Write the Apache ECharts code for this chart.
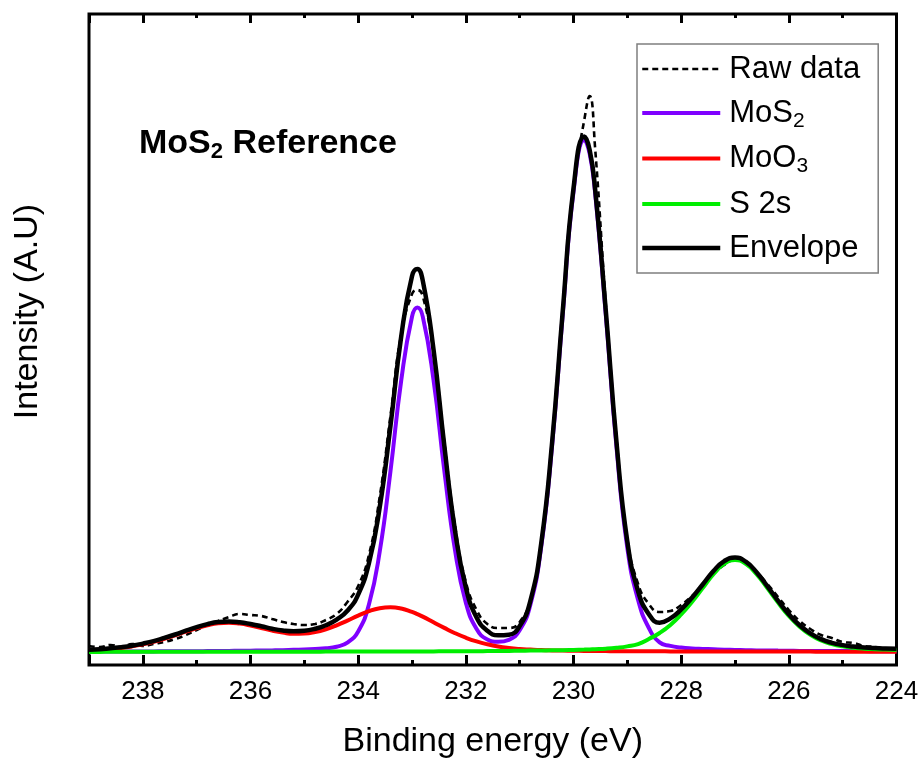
<!DOCTYPE html>
<html><head><meta charset="utf-8">
<script src="https://cdn.jsdelivr.net/npm/echarts@6/dist/echarts.min.js"></script>
<style>html,body{margin:0;padding:0;background:#fff}#c{width:922px;height:758px}</style>
</head><body><div id="c"></div>
<script>
// Binding energy (eV) sample positions
const energy = [239.0,238.8,238.6,238.4,238.2,238.0,237.8,237.6,237.4,237.2,237.0,236.8,236.6,236.4,236.2,236.0,235.8,235.6,235.4,235.2,235.0,234.8,234.6,234.4,234.2,234.0,233.8,233.6,233.4,233.2,233.0,232.9,232.8,232.6,232.4,232.2,232.0,231.8,231.6,231.4,231.2,231.0,230.8,230.6,230.4,230.2,230.0,229.8,229.7,229.6,229.4,229.2,229.0,228.8,228.6,228.4,228.2,228.0,227.8,227.6,227.4,227.2,227.0,226.8,226.6,226.4,226.2,226.0,225.8,225.6,225.4,225.2,225.0,224.8,224.6,224.4,224.2,224.0];

const rawData = [6,5,7,5,8,6,8,10,13,17,22,27,31,35,38,37,36,33,30,28,27,28,32,38,50,66,97,155,236,318,358,362,356,300,210,126,70,42,28,24,24,30,52,108,208,340,466,532,556,505,348,212,113,68,48,40,41,47,56,66,78,87,92,90,80,68,55,42,31,23,17,14,10,9,6,5,3,2];

const mos2 = [0.4,0.4,0.5,0.5,0.5,0.6,0.6,0.7,0.7,0.8,0.8,0.9,1.0,1.1,1.2,1.3,1.5,1.6,1.8,2.2,2.5,3.0,3.7,5.3,9.4,20.6,47.6,100.3,180.8,271.6,335.2,344.4,335.4,272.1,181.6,101.6,49.4,23.0,12.6,10.2,12.2,21.7,47.6,105.0,204.8,337.5,460.3,511.9,498.4,460.0,337.1,204.1,104.0,52.0,24.0,9.6,6.1,4.5,3.6,3.1,2.7,2.3,2.1,1.8,1.6,1.5,1.4,1.3,1.1,1.1,1.1,1.0,1.0,0.9,0.9,0.8,0.8,0.8];

const moo3 = [1.8,2.3,3.1,4.1,5.6,7.6,10.1,13.2,16.6,20.3,23.8,26.8,28.8,29.3,28.4,26.5,24.0,21.4,19.4,18.2,18.4,19.9,22.7,26.7,31.4,36.4,40.8,43.8,44.8,43.5,40.1,37.9,35.4,29.7,24.1,18.8,14.3,10.6,7.7,5.5,4.0,3.0,2.4,1.9,1.6,1.4,1.2,1.1,1.05,1.0,0.9,0.8,0.8,0.8,0.7,0.7,0.6,0.6,0.6,0.5,0.5,0.5,0.5,0.4,0.4,0.4,0.4,0.4,0.4,0.4,0.3,0.3,0.3,0.3,0.3,0.3,0.3,0.3];

const s2s = [0.1,0.1,0.2,0.2,0.2,0.2,0.2,0.2,0.2,0.2,0.2,0.2,0.2,0.2,0.2,0.2,0.3,0.3,0.3,0.3,0.3,0.3,0.4,0.4,0.4,0.4,0.4,0.5,0.5,0.5,0.5,0.6,0.6,0.6,0.7,0.7,0.8,0.8,0.9,1.0,1.1,1.2,1.4,1.5,1.7,1.8,2.1,2.4,2.6,2.8,3.3,4.2,5.6,7.9,13,19,27,37.5,50,63.9,77.8,88.1,92,88.1,77.8,63.9,49.4,36.1,25.3,17.2,11.5,7.9,5.6,4.2,3.3,2.8,2.4,2.1];

const envelope = [2.3,2.8,3.8,4.8,6.3,8.4,10.9,14.1,17.5,21.3,24.8,27.9,30.0,30.6,29.8,28.0,25.8,23.3,21.5,20.7,21.2,23.2,26.8,32.4,41.2,57.4,88.8,144.6,226.1,315.6,375.8,382.9,371.4,302.4,206.4,121.1,64.5,34.4,21.2,16.7,17.3,25.9,51.4,108.4,208.1,340.7,463.6,515.4,502.1,463.8,341.3,209.1,110.4,60.7,37.7,29.3,33.7,42.6,54.2,67.5,81.0,90.9,94.6,90.3,79.8,65.8,51.2,37.8,26.8,18.7,12.9,9.2,6.9,5.4,4.5,3.9,3.5,3.2];

const seriesNames = ['Raw data','MoS2','MoO3','S 2s','Envelope'];
const xMin = 224, xMax = 239, xStep = 2;
const yMin = -13, yMax = 638;

const FONT = '"Liberation Sans", Arial, sans-serif';
const pairs = arr => energy.map((e, i) => [e, arr[i]]);

const chart = echarts.init(document.getElementById('c'), null, {renderer: 'canvas'});

const tickCommon = {
  type: 'value', min: xMin, max: xMax, interval: xStep, inverse: true,
  splitLine: {show: false}, minorSplitLine: {show: false},
  axisLine: {show: false, onZero: false}
};

function lineSeries(name, arr, color, width, dash, z) {
  return {
    name, type: 'line', data: pairs(arr), symbol: 'none', smooth: 0.5, z,
    itemStyle: {color},
    lineStyle: {color, width, type: dash || 'solid'},
    emphasis: {disabled: true}, animation: false
  };
}

chart.setOption({
  animation: false,
  backgroundColor: '#fff',
  title: {
    text: '{b|MoS}{s|2}{b| Reference}',
    left: 139, top: 125, padding: 0,
    textStyle: {
      rich: {
        b: {fontFamily: FONT, fontSize: 34, fontWeight: 'bold', color: '#000'},
        s: {fontFamily: FONT, fontSize: 22, fontWeight: 'bold', color: '#000', padding: [16, 0, 0, 0]}
      }
    }
  },
  legend: {
    orient: 'vertical', left: 637, top: 44,
    itemWidth: 78, itemHeight: 12, itemGap: 10,
    padding: [8, 18, 8, 3],
    borderColor: '#7f7f7f', borderWidth: 1.5,
    selectedMode: false,
    data: seriesNames,
    itemStyle: {opacity: 0, borderWidth: 0},
    lineStyle: {width: 'inherit', type: 'inherit', color: 'inherit'},
    formatter: n => n === 'MoS2' ? 'MoS{sub|2}' : (n === 'MoO3' ? 'MoO{sub|3}' : n),
    textStyle: {
      fontFamily: FONT, fontSize: 31, color: '#000', lineHeight: 34,
      padding: [0, 0, 0, 4],
      rich: {sub: {fontFamily: FONT, fontSize: 21, color: '#000', padding: [16, 0, 0, 0]}}
    }
  },
  grid: {left: 89, right: 25.5, top: 14, bottom: 93, show: true, borderColor: '#000', borderWidth: 3,
         backgroundColor: 'transparent', containLabel: false, outerBoundsMode: 'none'},
  xAxis: [
    Object.assign({}, tickCommon, {
      position: 'bottom',
      axisTick: {show: true, inside: true, length: 10, lineStyle: {color: '#000', width: 3}},
      minorTick: {show: true, splitNumber: 2, length: 5, lineStyle: {color: '#000', width: 3}},
      axisLabel: {show: true, margin: 14, fontSize: 26, fontFamily: FONT, color: '#000', showMaxLabel: false},
      name: 'Binding energy (eV)', nameLocation: 'middle', nameGap: 60,
      nameTextStyle: {fontFamily: FONT, fontSize: 34, color: '#000'}
    }),
    Object.assign({}, tickCommon, {
      position: 'top',
      axisTick: {show: true, inside: true, length: 9, lineStyle: {color: '#000', width: 3}},
      minorTick: {show: true, splitNumber: 2, length: 4, lineStyle: {color: '#000', width: 3}},
      axisLabel: {show: false}
    })
  ],
  yAxis: [
    {
      type: 'value', min: yMin, max: yMax, position: 'left',
      axisLine: {show: false}, axisTick: {show: false}, axisLabel: {show: false}, splitLine: {show: false},
      name: 'Intensity (A.U)', nameLocation: 'middle', nameGap: 44,
      nameTextStyle: {fontFamily: FONT, fontSize: 34, color: '#000', padding: [0, 0, 0, 56]}
    }
  ],
  series: [
    lineSeries('Raw data', rawData, '#000000', 2.6, [6, 4], 2),
    lineSeries('MoS2', mos2, '#7F00FF', 4, null, 3),
    lineSeries('MoO3', moo3, '#FF0000', 4, null, 4),
    lineSeries('S 2s', s2s, '#00EE00', 4, null, 5),
    lineSeries('Envelope', envelope, '#000000', 4.5, null, 6)
  ]
});
</script>
</body></html>
